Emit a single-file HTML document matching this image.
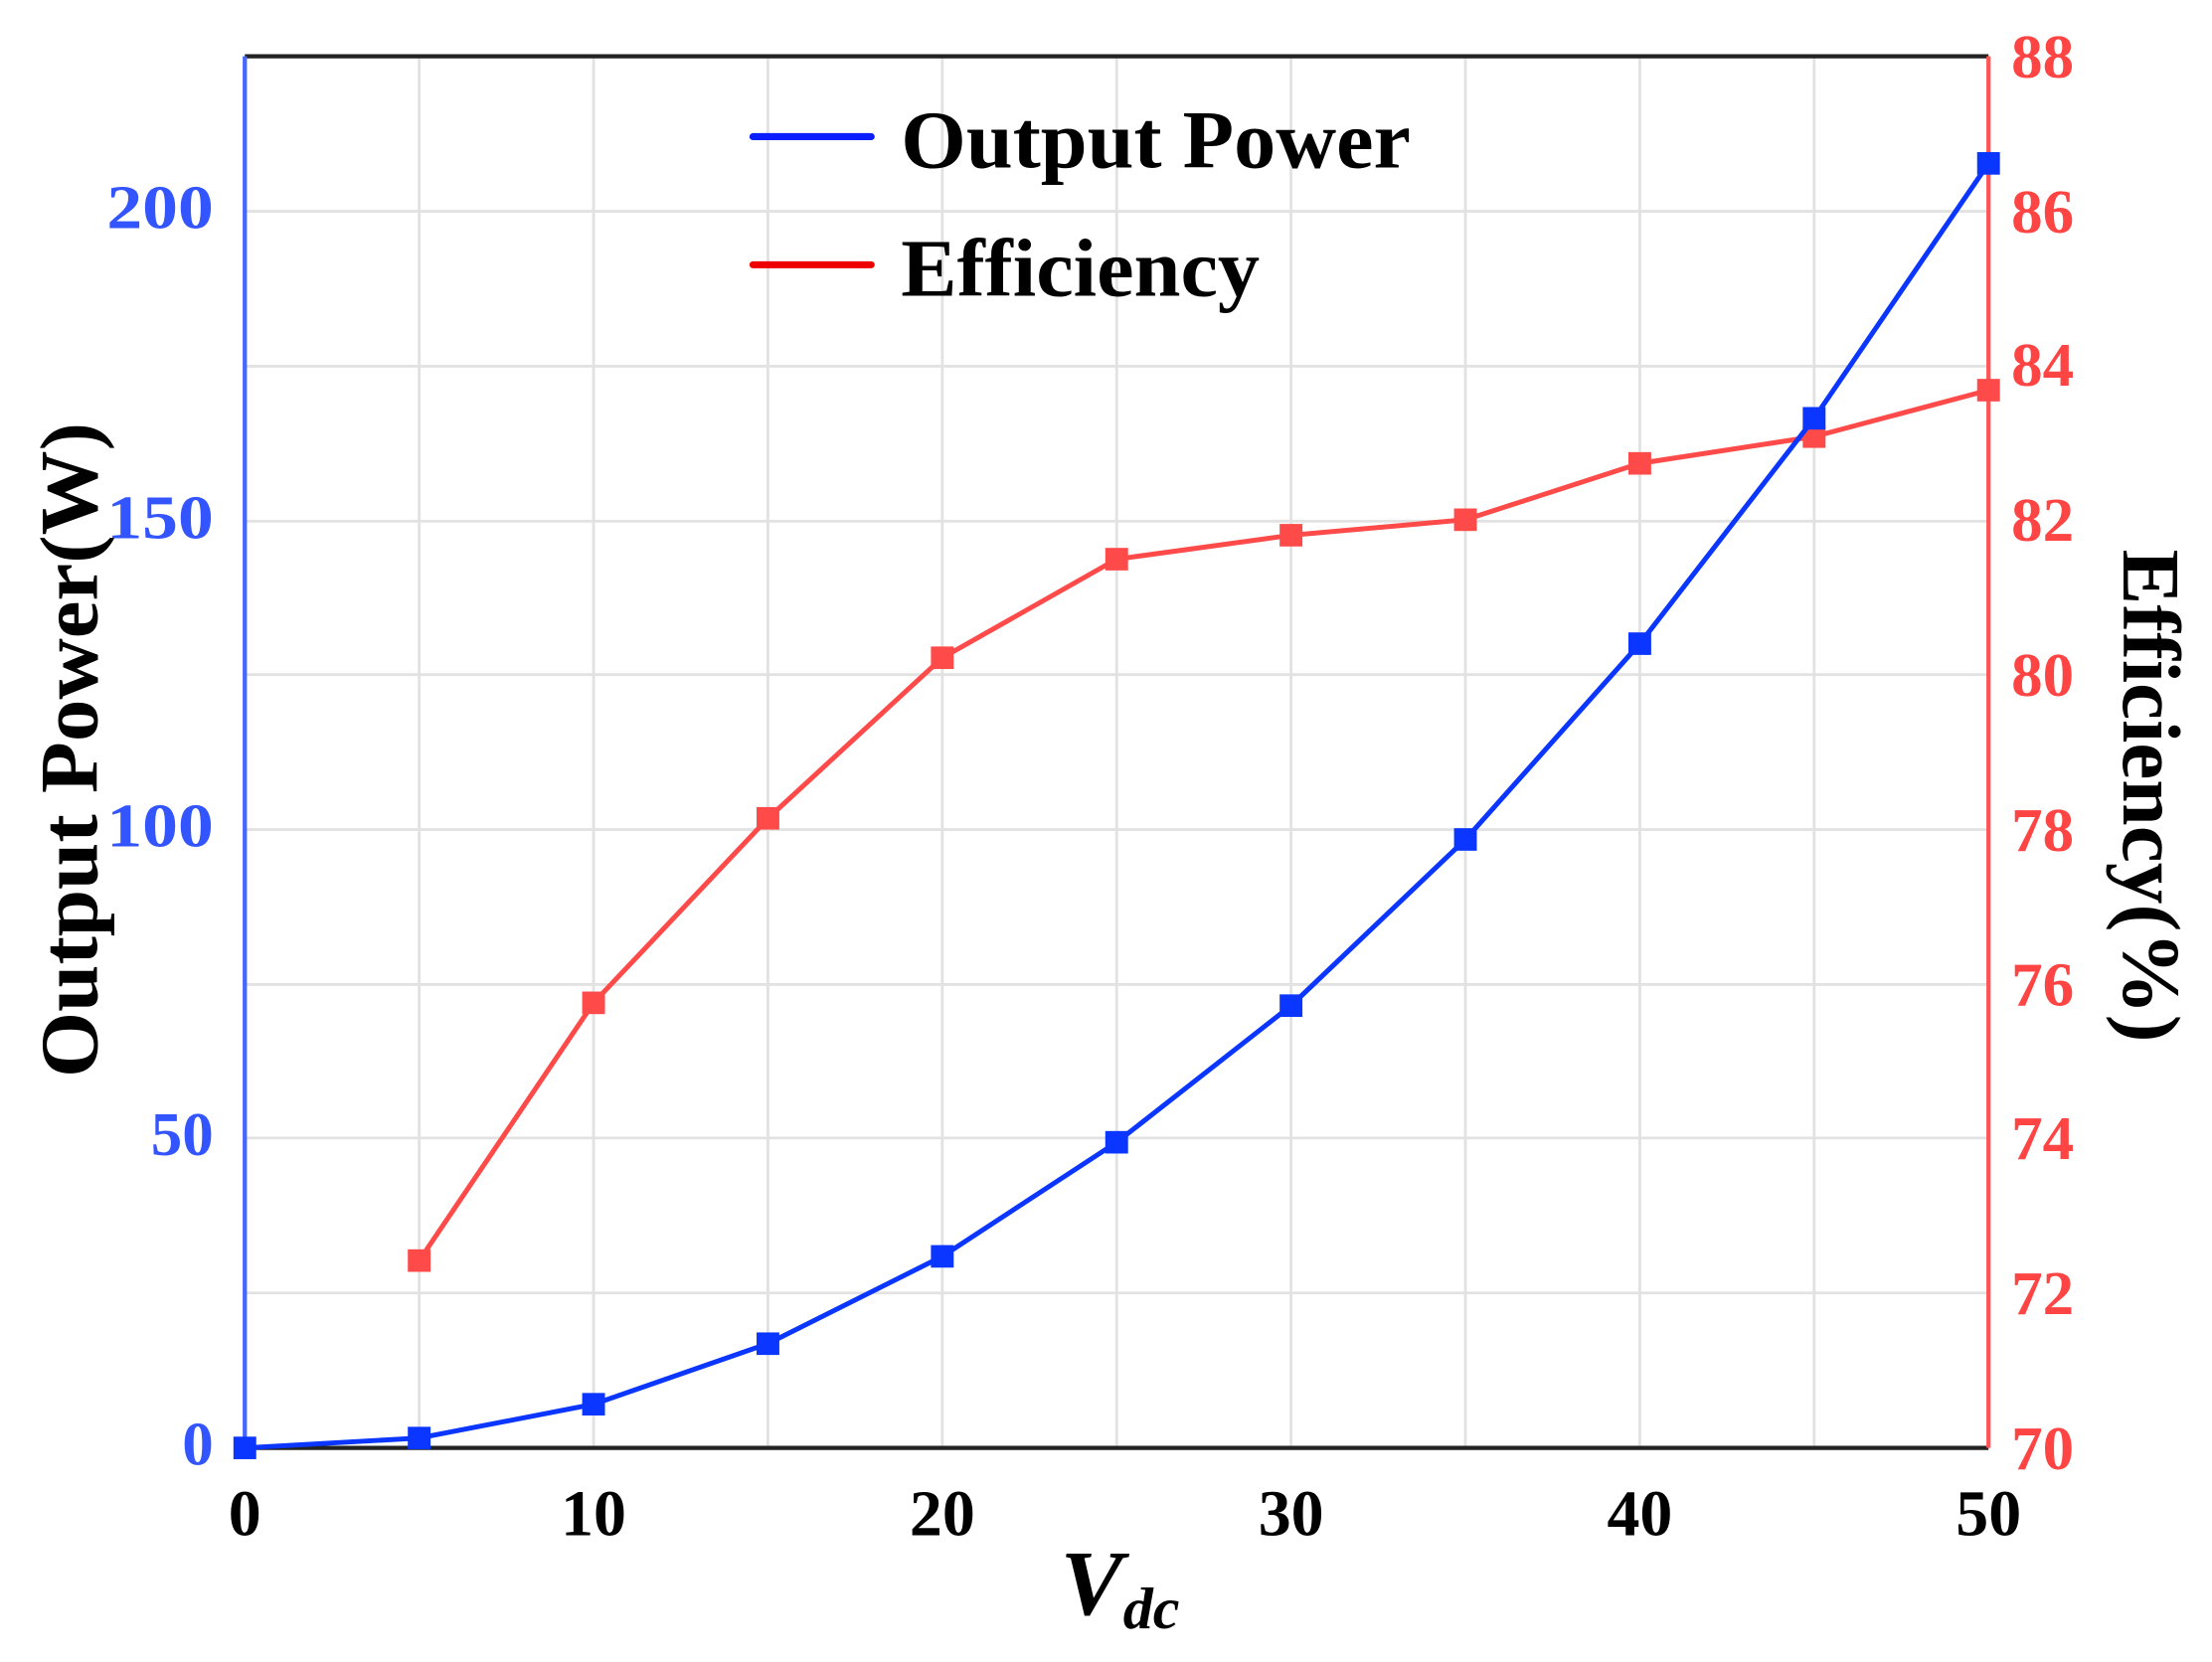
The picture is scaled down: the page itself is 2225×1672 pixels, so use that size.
<!DOCTYPE html>
<html><head><meta charset="utf-8"><style>html,body{margin:0;padding:0;background:#fff}svg{display:block}</style></head>
<body>
<svg width="2225" height="1672" viewBox="0 0 1554 1180" preserveAspectRatio="none" xmlns="http://www.w3.org/2000/svg" font-family="Liberation Serif, serif" font-weight="bold">
<g stroke="#e2e2e2" stroke-width="2">
<line x1="294.5" y1="40" x2="294.5" y2="1028"/><line x1="417" y1="40" x2="417" y2="1028"/><line x1="539.5" y1="40" x2="539.5" y2="1028"/><line x1="662" y1="40" x2="662" y2="1028"/><line x1="784.5" y1="40" x2="784.5" y2="1028"/><line x1="907" y1="40" x2="907" y2="1028"/><line x1="1029.5" y1="40" x2="1029.5" y2="1028"/><line x1="1152" y1="40" x2="1152" y2="1028"/><line x1="1274.5" y1="40" x2="1274.5" y2="1028"/>
<line x1="172" y1="150" x2="1397" y2="150"/><line x1="172" y1="260" x2="1397" y2="260"/><line x1="172" y1="370" x2="1397" y2="370"/><line x1="172" y1="479" x2="1397" y2="479"/><line x1="172" y1="589" x2="1397" y2="589"/><line x1="172" y1="699" x2="1397" y2="699"/><line x1="172" y1="808" x2="1397" y2="808"/><line x1="172" y1="918" x2="1397" y2="918"/>
</g>
<line x1="172" y1="40" x2="1397" y2="40" stroke="#222" stroke-width="3"/>
<line x1="172" y1="1028" x2="1397" y2="1028" stroke="#222" stroke-width="3"/>
<line x1="172" y1="40" x2="172" y2="1028" stroke="#4466ff" stroke-width="3"/>
<line x1="1397" y1="40" x2="1397" y2="1028" stroke="#ff5555" stroke-width="3"/>
<polyline fill="none" stroke="#ff4a4a" stroke-width="3.5" points="294.5,895 417,712 539.5,581 662,467 784.5,397 907,380 1029.5,369 1152,329 1274.5,310 1397,277"/>
<g fill="#ff4a4a"><rect x="286.5" y="887" width="16" height="16"/><rect x="409" y="704" width="16" height="16"/><rect x="531.5" y="573" width="16" height="16"/><rect x="654" y="459" width="16" height="16"/><rect x="776.5" y="389" width="16" height="16"/><rect x="899" y="372" width="16" height="16"/><rect x="1021.5" y="361" width="16" height="16"/><rect x="1144" y="321" width="16" height="16"/><rect x="1266.5" y="302" width="16" height="16"/><rect x="1389" y="269" width="16" height="16"/></g>
<polyline fill="none" stroke="#0a36ff" stroke-width="3.5" points="172,1028 294.5,1021 417,997 539.5,954 662,892 784.5,811 907,714 1029.5,596 1152,457 1274.5,297 1397,116"/>
<g fill="#0a36ff"><rect x="164" y="1020" width="16" height="16"/><rect x="286.5" y="1013" width="16" height="16"/><rect x="409" y="989" width="16" height="16"/><rect x="531.5" y="946" width="16" height="16"/><rect x="654" y="884" width="16" height="16"/><rect x="776.5" y="803" width="16" height="16"/><rect x="899" y="706" width="16" height="16"/><rect x="1021.5" y="588" width="16" height="16"/><rect x="1144" y="449" width="16" height="16"/><rect x="1266.5" y="289" width="16" height="16"/><rect x="1389" y="108" width="16" height="16"/></g>
<g font-size="44" fill="#3355ff" text-anchor="end">
<text x="150" y="1040">0</text><text x="150" y="820">50</text><text x="150" y="601" textLength="75" lengthAdjust="spacingAndGlyphs">100</text><text x="150" y="382" textLength="75" lengthAdjust="spacingAndGlyphs">150</text><text x="150" y="162" textLength="75" lengthAdjust="spacingAndGlyphs">200</text>
</g>
<g font-size="44" fill="#ff4444" text-anchor="start">
<text x="1413" y="1043">70</text><text x="1413" y="933">72</text><text x="1413" y="823">74</text><text x="1413" y="714">76</text><text x="1413" y="604">78</text><text x="1413" y="494">80</text><text x="1413" y="384">82</text><text x="1413" y="274">84</text><text x="1413" y="165">86</text><text x="1413" y="55">88</text>
</g>
<g font-size="46" fill="#000" text-anchor="middle">
<text x="172" y="1090">0</text><text x="417" y="1090">10</text><text x="662" y="1090">20</text><text x="907" y="1090">30</text><text x="1152" y="1090">40</text><text x="1397" y="1090">50</text>
</g>
<text x="745" y="1146" font-size="66" font-style="italic">V<tspan font-size="42" dy="10">dc</tspan></text>
<text transform="translate(68,765) rotate(-90)" font-size="58" textLength="465" lengthAdjust="spacingAndGlyphs">Output Power(W)</text>
<text transform="translate(1492,390) rotate(90)" font-size="58" textLength="350" lengthAdjust="spacingAndGlyphs">Efficiency(%)</text>
<line x1="529" y1="97" x2="612" y2="97" stroke="#0a1eff" stroke-width="5" stroke-linecap="round"/>
<line x1="529" y1="188" x2="612" y2="188" stroke="#ee0000" stroke-width="5" stroke-linecap="round"/>
<text x="633" y="119" font-size="58" textLength="358" lengthAdjust="spacingAndGlyphs">Output Power</text>
<text x="633" y="210" font-size="58" textLength="252" lengthAdjust="spacingAndGlyphs">Efficiency</text>
</svg>
</body></html>
